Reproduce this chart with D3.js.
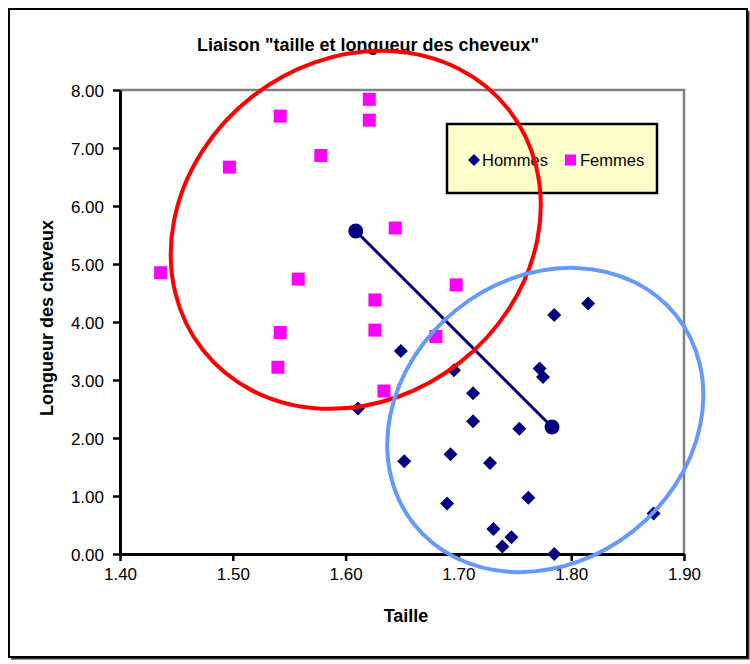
<!DOCTYPE html>
<html>
<head>
<meta charset="utf-8">
<script src="https://cdn.jsdelivr.net/npm/d3@7/dist/d3.min.js"></script>
<style>
  html, body { margin: 0; padding: 0; background: #fff; }
  svg { display: block; }
  text { font-family: "Liberation Sans", Arial, sans-serif; }
</style>
</head>
<body>
<svg id="chart" width="750" height="664"></svg>
<script>
// Hommes : taille (m) et longueur des cheveux
const tailleHommes  = [1.649, 1.611, 1.652, 1.815, 1.785, 1.696, 1.772, 1.775, 1.713, 1.713,
                       1.754, 1.693, 1.728, 1.762, 1.690, 1.731, 1.747, 1.739, 1.785, 1.873];
const cheveuxHommes = [3.50, 2.51, 1.60, 4.32, 4.12, 3.17, 3.20, 3.05, 2.77, 2.29,
                       2.16, 1.72, 1.57, 0.97, 0.87, 0.43, 0.29, 0.13, 0.00, 0.70];

// Femmes : taille (m) et longueur des cheveux
const tailleFemmes  = [1.436, 1.497, 1.542, 1.578, 1.621, 1.621, 1.644, 1.558, 1.626, 1.626,
                       1.542, 1.540, 1.634, 1.698, 1.680];
const cheveuxFemmes = [4.85, 6.67, 7.55, 6.87, 7.84, 7.48, 5.62, 4.74, 4.38, 3.86,
                       3.82, 3.22, 2.81, 4.64, 3.75];

// Centres des deux groupes (Femmes, Hommes), reliés par un segment
const centreTaille  = [1.609, 1.783];
const centreCheveux = [5.57, 2.19];

// Centres des ellipses entourant chaque groupe (Femmes, Hommes)
const ellipseTaille  = [1.609, 1.777];
const ellipseCheveux = [5.59, 2.31];

// Graduations
const xTicks = [1.40, 1.50, 1.60, 1.70, 1.80, 1.90];
const yTicks = [0, 1, 2, 3, 4, 5, 6, 7, 8];

const svg = d3.select("#chart");

// Cadre extérieur avec ombre légère à droite et en bas
svg.append("path")
  .attr("d", "M748.5,11V658.5H11")
  .attr("fill", "none").attr("stroke", "#333").attr("stroke-width", 2);
svg.append("rect")
  .attr("x", 9).attr("y", 9).attr("width", 738).attr("height", 648)
  .attr("fill", "#fff").attr("stroke", "#000").attr("stroke-width", 2);

const x = d3.scaleLinear().domain([1.40, 1.90]).range([120, 684]);
const y = d3.scaleLinear().domain([0, 8]).range([554, 90]);

// Zone de tracé : bords haut et droit gris
svg.append("path")
  .attr("d", `M${x(1.40)},${y(8)}H${x(1.90)}V${y(0)}`)
  .attr("fill", "none").attr("stroke", "#808080").attr("stroke-width", 2.5);

// Axe des abscisses
const xAxis = svg.append("g")
  .attr("transform", `translate(0,${y(0)})`)
  .call(d3.axisBottom(x).tickValues(xTicks).tickFormat(d3.format(".2f"))
        .tickSize(7).tickPadding(7).tickSizeOuter(0));
// Axe des ordonnées
const yAxis = svg.append("g")
  .attr("transform", `translate(${x(1.40)},0)`)
  .call(d3.axisLeft(y).tickValues(yTicks).tickFormat(d3.format(".2f"))
        .tickSize(7).tickPadding(9).tickSizeOuter(0));

[xAxis, yAxis].forEach(g => {
  g.select(".domain").attr("stroke", "#000").attr("stroke-width", 3);
  g.selectAll(".tick line").attr("stroke", "#000").attr("stroke-width", 2.5);
  g.selectAll(".tick text").attr("fill", "#000")
    .style("font-family", "'Liberation Sans', Arial, sans-serif")
    .style("font-size", "17px");
});
yAxis.selectAll(".tick text").attr("dy", "0.36em");

// Titres
svg.append("text")
  .attr("x", 368).attr("y", 51).attr("text-anchor", "middle")
  .style("font-size", "18px").style("font-weight", "bold")
  .text('Liaison "taille et longueur des cheveux"');

svg.append("text")
  .attr("x", 406).attr("y", 622).attr("text-anchor", "middle")
  .style("font-size", "18px").style("font-weight", "bold")
  .text("Taille");

svg.append("text")
  .attr("transform", "translate(53,318) rotate(-90)")
  .attr("text-anchor", "middle")
  .style("font-size", "18px").style("font-weight", "bold")
  .text("Longueur des cheveux");

const navy = "#000080";
const pink = "#FF00FF";

const diamond = s => `M0,${-s}L${s},0L0,${s}L${-s},0Z`;

// Points Hommes (losanges)
svg.append("g").selectAll("path")
  .data(d3.range(tailleHommes.length))
  .join("path")
  .attr("transform", i => `translate(${x(tailleHommes[i])},${y(cheveuxHommes[i])})`)
  .attr("d", diamond(7))
  .attr("fill", navy);

// Points Femmes (carrés)
const sq = 13;
svg.append("g").selectAll("rect")
  .data(d3.range(tailleFemmes.length))
  .join("rect")
  .attr("x", i => x(tailleFemmes[i]) - sq / 2)
  .attr("y", i => y(cheveuxFemmes[i]) - sq / 2)
  .attr("width", sq).attr("height", sq)
  .attr("fill", pink);

// Segment entre les centres
svg.append("line")
  .attr("x1", x(centreTaille[0])).attr("y1", y(centreCheveux[0]))
  .attr("x2", x(centreTaille[1])).attr("y2", y(centreCheveux[1]))
  .attr("stroke", navy).attr("stroke-width", 3);

svg.append("g").selectAll("circle")
  .data(d3.range(centreTaille.length))
  .join("circle")
  .attr("cx", i => x(centreTaille[i]))
  .attr("cy", i => y(centreCheveux[i]))
  .attr("r", 7.5)
  .attr("fill", navy);

// Légende
const leg = svg.append("g");
leg.append("rect")
  .attr("x", 447).attr("y", 124).attr("width", 210).attr("height", 69)
  .attr("fill", "#FFFFCC").attr("stroke", "#000").attr("stroke-width", 2.5);
leg.append("path")
  .attr("transform", "translate(474,160)")
  .attr("d", diamond(6)).attr("fill", navy);
leg.append("text")
  .attr("x", 482).attr("y", 166)
  .style("font-size", "16.5px").text("Hommes");
leg.append("rect")
  .attr("x", 565).attr("y", 154.5).attr("width", 11).attr("height", 11)
  .attr("fill", pink);
leg.append("text")
  .attr("x", 580).attr("y", 166)
  .style("font-size", "16.5px").text("Femmes");

// Ellipses entourant les groupes (rayons en pixels, inclinaison en degrés)
const ellipseRx    = [194.5, 167.6];
const ellipseRy    = [168.7, 141.6];
const ellipseAngle = [-38.3, -38.5];
const ellipseColor = ["#FF0000", "#6699FF"];

svg.append("g").selectAll("ellipse")
  .data(d3.range(ellipseTaille.length))
  .join("ellipse")
  .attr("transform", i =>
    `translate(${x(ellipseTaille[i])},${y(ellipseCheveux[i])}) rotate(${ellipseAngle[i]})`)
  .attr("rx", i => ellipseRx[i])
  .attr("ry", i => ellipseRy[i])
  .attr("fill", "none")
  .attr("stroke", i => ellipseColor[i])
  .attr("stroke-width", 4);
</script>
</body>
</html>
